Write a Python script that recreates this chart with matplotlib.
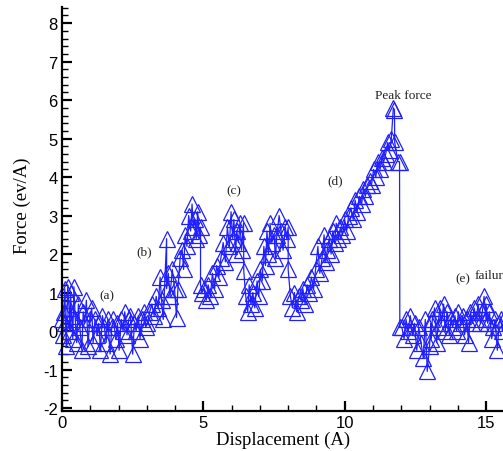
import matplotlib
matplotlib.use("Agg")
import matplotlib.pyplot as plt
from matplotlib.ticker import MultipleLocator

plt.rcParams["axes.unicode_minus"] = False

# displacement (A) and force (ev/A)
disp = [
    0.00, 0.03, 0.06, 0.10, 0.12, 0.15, 0.20, 0.25, 0.28, 0.30,
    0.34, 0.38, 0.42, 0.47, 0.52, 0.58, 0.63, 0.70, 0.75, 0.80,
    0.86, 0.92, 0.98, 1.05, 1.10, 1.17, 1.24, 1.30, 1.36, 1.43,
    1.50, 1.56, 1.62, 1.70, 1.76, 1.82, 1.90, 1.96, 2.02, 2.10,
    2.16, 2.22, 2.30, 2.36, 2.42, 2.50, 2.56, 2.62, 2.70, 2.76,
    2.82, 2.90, 2.96,
    3.02, 3.10, 3.18, 3.26, 3.33, 3.40, 3.47, 3.52, 3.58, 3.70,
    3.70, 3.76, 3.82, 3.90, 3.98, 4.05, 4.10, 4.18, 4.25, 4.30,
    4.36, 4.42, 4.48, 4.55, 4.60, 4.65, 4.70, 4.75, 4.80, 4.85,
    4.90, 4.90, 4.95,
    5.02, 5.10, 5.17, 5.25, 5.32, 5.40, 5.47, 5.55, 5.62, 5.70,
    5.78, 5.85, 5.92, 5.98, 6.04, 6.08, 6.14, 6.18, 6.24, 6.30,
    6.35, 6.42, 6.43,
    6.50, 6.57, 6.62, 6.68, 6.75, 6.82, 6.90, 6.96, 7.02, 7.08,
    7.14, 7.20, 7.25, 7.30, 7.36, 7.42, 7.50, 7.55, 7.60, 7.68,
    7.75, 7.82, 7.90, 7.95, 8.00, 8.00,
    8.08, 8.15, 8.22, 8.30, 8.37, 8.45, 8.52, 8.60, 8.67, 8.75,
    8.82, 8.90, 8.97, 9.05, 9.12, 9.20, 9.27, 9.33, 9.38, 9.45,
    9.52, 9.58, 9.64, 9.70, 9.78, 9.85, 9.92, 10.00, 10.07, 10.14,
    10.22, 10.30, 10.37, 10.44, 10.52, 10.60, 10.66, 10.73, 10.80, 10.88,
    10.95, 11.02, 11.10, 11.17, 11.25, 11.32, 11.38, 11.45, 11.52, 11.58,
    11.65, 11.72, 11.76, 11.77, 11.88, 11.94, 11.95,
    12.02, 12.10, 12.17, 12.24, 12.32, 12.40, 12.47, 12.55, 12.62, 12.70,
    12.78, 12.85, 12.92, 13.00, 13.05, 13.05, 13.10, 13.18, 13.25, 13.30,
    13.36, 13.42, 13.50, 13.56, 13.62, 13.70, 13.76, 13.82, 13.90, 13.96,
    14.02, 14.10, 14.17, 14.24, 14.32, 14.38, 14.45, 14.52, 14.58, 14.65,
    14.72, 14.80, 14.87, 14.93, 15.00, 15.00, 15.06, 15.12, 15.20, 15.26,
    15.32, 15.40, 15.46, 15.52, 15.58, 15.65,
]
force = [
    0.30, -0.10, 0.50, 1.10, 0.20, -0.40, 1.15, 0.60, 0.00, 1.00,
    0.40, -0.20, 1.15, 0.30, -0.30, 0.70, 0.10, -0.50, 0.50, 0.20,
    0.80, -0.40, 0.30, 0.60, -0.30, 0.30, -0.10, 0.20, -0.50, 0.40,
    0.10, -0.30, 0.30, -0.60, 0.10, 0.30, -0.20, 0.20, -0.50, 0.30,
    0.00, 0.50, -0.10, 0.30, 0.40, -0.60, 0.20, 0.00, 0.40, -0.20,
    0.30, 0.50, 0.10,
    0.20, 0.50, 0.70, 0.40, 0.90, 0.60, 1.40, 0.80, 0.30, 2.40,
    1.10, 1.50, 0.90, 1.60, 1.10, 0.35, 1.10, 1.90, 2.10, 1.60,
    2.50, 2.20, 3.00, 2.60, 3.30, 2.70, 2.90, 2.40, 3.10, 2.50,
    2.70, 1.20, 1.00,
    1.10, 0.80, 1.20, 0.90, 1.50, 1.10, 1.70, 1.40, 1.90, 2.30,
    1.80, 2.70, 2.20, 3.10, 2.40, 2.90, 2.00, 2.60, 2.30, 2.80,
    2.10, 2.80, 1.55,
    0.90, 0.50, 1.20, 0.70, 1.00, 0.60, 1.30, 0.90, 1.60, 1.30,
    2.20, 1.70, 2.60, 2.00, 2.80, 2.30, 2.50, 1.90, 2.50, 3.00,
    2.60, 2.10, 2.70, 2.40, 2.70, 1.60,
    0.90, 0.60, 1.00, 0.50, 0.90, 0.80, 1.10, 0.70, 1.20, 1.00,
    1.40, 1.10, 1.60, 2.20, 1.50, 1.90, 2.50, 1.80, 2.10, 2.40,
    2.00, 2.60, 2.30, 2.80, 2.40, 2.70, 2.50, 2.90, 2.60, 3.00,
    3.20, 2.90, 3.40, 3.10, 3.50, 3.30, 3.70, 3.50, 3.80, 3.90,
    3.80, 4.20, 4.00, 4.40, 4.20, 4.50, 4.40, 4.60, 4.90, 4.70,
    5.00, 5.80, 5.75, 4.90, 4.40, 4.40, 0.10,
    0.10, -0.20, 0.30, 0.00, 0.40, -0.10, 0.20, -0.50, 0.10, -0.30,
    -0.70, 0.30, -1.05, -0.40, 0.20, -0.20, 0.30, 0.60, -0.30, 0.10,
    0.60, 0.20, 0.70, 0.00, 0.50, -0.10, 0.30, 0.10, 0.40, 0.00,
    0.50, 0.20, 0.40, -0.10, 0.30, -0.30, 0.50, 0.20, 0.60, 0.30,
    0.70, 0.20, 0.50, 0.90, 0.30, 0.70, 0.20, 0.50, -0.20, 0.10,
    0.30, -0.50, 0.20, 0.30, 0.00, 0.30,
]

labels = ["(a)", "(b)", "(c)", "(d)", "Peak force", "(e)", "failure"]
label_x = [1.60, 2.90, 6.08, 9.65, 12.08, 14.17, 14.60]
label_y = [0.93, 2.08, 3.66, 3.92, 6.13, 1.38, 1.45]
label_ha = ["center", "center", "center", "center", "center", "center", "left"]

fig = plt.figure(figsize=(5.03, 4.52), dpi=100)
ax = fig.add_axes([0.1233, 0.0892, 0.8767, 0.8931])

ax.plot(disp, force, color="#2020ff", lw=0.9, marker="^", ms=11,
        mfc="none", mec="#2020ff", mew=0.9, clip_on=False)

for t, x, y, ha in zip(labels, label_x, label_y, label_ha):
    ax.text(x, y, t, ha=ha, va="center", fontsize=9.5,
            family="Liberation Serif", color="#222222")

ax.set_xlim(0, 15.6)
ax.set_ylim(-2.07, 8.42)

for s in ["top", "right"]:
    ax.spines[s].set_visible(False)
for s in ["left", "bottom"]:
    ax.spines[s].set_linewidth(1.6)

ax.xaxis.set_major_locator(MultipleLocator(5))
ax.xaxis.set_minor_locator(MultipleLocator(1))
ax.yaxis.set_major_locator(MultipleLocator(1))
ax.yaxis.set_minor_locator(MultipleLocator(0.2))
ax.tick_params(which="both", direction="in")
ax.tick_params(which="major", length=7, width=1.6, labelsize=12, pad=3)
ax.tick_params(which="minor", length=4, width=1.0)
for lab in ax.get_xticklabels() + ax.get_yticklabels():
    lab.set_family("Liberation Sans")

fig.text(283 / 503, 1 - 440 / 452, "Displacement (A)", ha="center", va="center",
         fontsize=13.5, family="Liberation Serif")
fig.text(22 / 503, 1 - 206 / 452, "Force (ev/A)", ha="center", va="center",
         rotation=90, fontsize=13.5, family="Liberation Serif")

fig.savefig("out.png", dpi=100)
